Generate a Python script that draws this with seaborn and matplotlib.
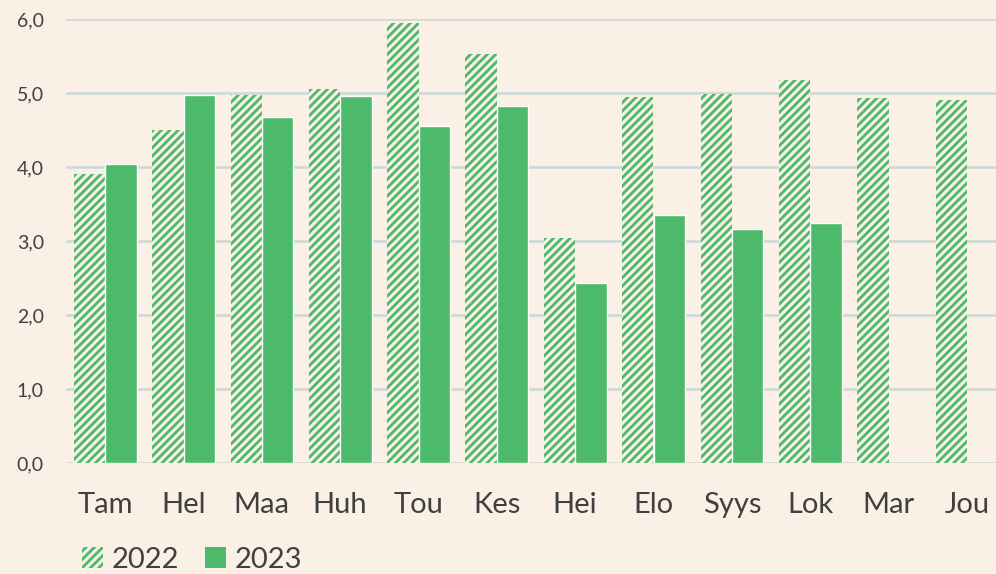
import numpy as np
import pandas as pd
import matplotlib.pyplot as plt
import seaborn as sns
from matplotlib.patches import Patch

# Data
months = ['Tam', 'Hel', 'Maa', 'Huh', 'Tou', 'Kes', 'Hei', 'Elo', 'Syys', 'Lok', 'Mar', 'Jou']
values_2022 = [3.9, 4.5, 4.97, 5.05, 5.95, 5.53, 3.04, 4.95, 4.99, 5.18, 4.93, 4.9]
values_2023 = [4.04, 4.97, 4.68, 4.96, 4.55, 4.82, 2.43, 3.35, 3.16, 3.24, np.nan, np.nan]
years = ['2022', '2023']

green = '#4cb96b'
bg = '#faf0e5'
grid_col = '#cbd8d8'
text_col = '#404040'

df = pd.DataFrame({
    'kk': months * 2,
    'arvo': values_2022 + values_2023,
    'vuosi': [years[0]] * len(months) + [years[1]] * len(months),
})

sns.set_theme(style='white')
plt.rcParams['font.family'] = ['Lato', 'DejaVu Sans']
plt.rcParams['hatch.linewidth'] = 2.0

fig = plt.figure(figsize=(9.96, 5.74), dpi=100, facecolor=bg)
# axes extends a little past the right edge, like the cropped original
ax = fig.add_axes([66 / 996, 111 / 574, 940 / 996, 444 / 574])
ax.set_facecolor(bg)

sns.barplot(data=df, x='kk', y='arvo', hue='vuosi', palette=[green, green],
            width=0.8, gap=0, ax=ax, legend=False, saturation=1, errorbar=None)

# 2022 bars hatched
for p in ax.containers[0]:
    p.set_facecolor(bg)
    p.set_edgecolor(green)
    p.set_hatch('////')
    p.set_linewidth(0)

ax.set_ylim(0, 6)
ax.set_xlim(-0.5, len(months) - 0.5)
ax.set_yticks(np.arange(0, 7, 1))
ax.set_yticklabels([f'{v:.1f}'.replace('.', ',') for v in np.arange(0, 7, 1)])
ax.yaxis.grid(True, color=grid_col, linewidth=1.8)
ax.set_axisbelow(True)
for s in ax.spines.values():
    s.set_visible(False)
ax.set_xlabel('')
ax.set_ylabel('')
ax.tick_params(axis='x', length=0, pad=21, labelsize=21, labelcolor=text_col)
ax.tick_params(axis='y', length=0, pad=16, labelsize=14, labelcolor=text_col)

handles = [Patch(facecolor=bg, edgecolor=green, hatch='////', linewidth=0, label=years[0]),
           Patch(facecolor=green, edgecolor=green, linewidth=0, label=years[1])]
leg = fig.legend(handles=handles, loc='center left', bbox_to_anchor=(70 / 996, 14 / 574),
                 ncol=2, frameon=False, fontsize=21, handlelength=0.72, handleheight=0.72,
                 handletextpad=0.3, columnspacing=0.9, borderaxespad=0)
for t in leg.get_texts():
    t.set_color(text_col)

fig.savefig('out.png', dpi=100, facecolor=bg)
